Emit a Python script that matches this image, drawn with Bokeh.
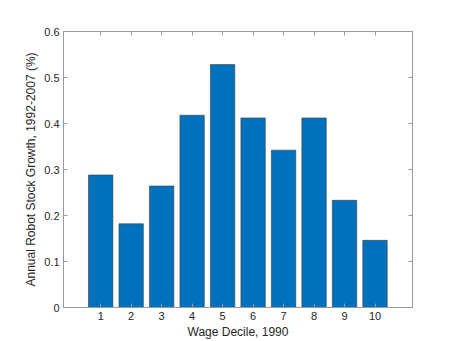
from bokeh.plotting import figure
from bokeh.models import Range1d, FixedTicker, LinearAxis
from bokeh.embed import file_html
from bokeh.resources import INLINE

deciles = [1, 2, 3, 4, 5, 6, 7, 8, 9, 10]
growth = [0.288, 0.182, 0.264, 0.418, 0.528, 0.412, 0.342, 0.412, 0.233, 0.146]
y_ticks = [0, 0.1, 0.2, 0.3, 0.4, 0.5, 0.6]
y_labels = ["0", "0.1", "0.2", "0.3", "0.4", "0.5", "0.6"]

FONT = "Liberation Sans"
AX = "#9a9a9a"
TXT = "#262626"

p = figure(width=450, height=341, output_backend="svg", toolbar_location=None,
           x_range=Range1d(-0.22, 11.23), y_range=Range1d(0, 0.6),
           min_border_left=63, min_border_right=38, min_border_top=31,
           min_border_bottom=34)
p.grid.visible = False
p.outline_line_color = AX
p.outline_line_width = 1
p.background_fill_color = "white"
p.border_fill_color = "white"

p.vbar(x=deciles, top=growth, width=0.8, bottom=0,
       fill_color="#0072BD", line_color="#3a3a3a", line_width=0.6)

def style(ax, labels=True):
    ax.axis_line_color = AX
    ax.major_tick_line_color = AX
    ax.major_tick_in = 4
    ax.major_tick_out = 0
    ax.minor_tick_line_color = None
    ax.major_label_text_font = FONT
    ax.axis_label_text_font = FONT
    ax.axis_label_text_color = TXT
    ax.axis_label_text_font_style = "normal"
    ax.major_label_text_font_size = "11px"
    ax.axis_label_text_font_size = "12px"
    ax.major_label_text_color = TXT if labels else None

xax = p.xaxis[0]
xax.ticker = FixedTicker(ticks=deciles)
xax.axis_label = "Wage Decile, 1990"
style(xax)
xax.major_label_standoff = 4
xax.axis_label_standoff = 2

yax = p.yaxis[0]
yax.ticker = FixedTicker(ticks=y_ticks)
yax.major_label_overrides = {t: l for t, l in zip(y_ticks, y_labels)}
yax.axis_label = "Annual Robot Stock Growth, 1992-2007 (%)"
style(yax)
yax.major_label_standoff = 4
yax.axis_label_standoff = 3

top = LinearAxis(ticker=FixedTicker(ticks=deciles))
style(top, labels=False)
p.add_layout(top, "above")
right = LinearAxis(ticker=FixedTicker(ticks=y_ticks))
style(right, labels=False)
p.add_layout(right, "right")

open("out.html", "w").write(file_html(p, INLINE))
